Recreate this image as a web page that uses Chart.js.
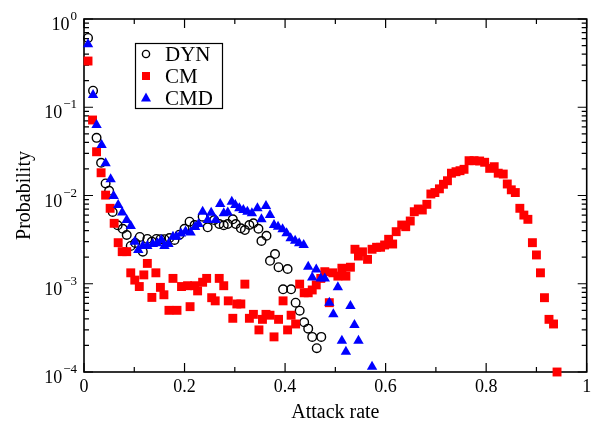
<!DOCTYPE html>
<html>
<head>
<meta charset="utf-8">
<script src="https://cdn.jsdelivr.net/npm/chart.js@4"></script>
<style>
  html, body { margin: 0; padding: 0; background: #fff; }
  #wrap { width: 593px; height: 425px; }
</style>
</head>
<body>
<div id="wrap"><canvas id="attackChart" width="593" height="425"></canvas></div>
<script>
// DYN (open circles)
const dynX = [
  0.008, 0.018, 0.025, 0.034, 0.043, 0.050, 0.057, 0.067, 0.077, 0.085,
  0.093, 0.102, 0.111, 0.117, 0.126, 0.135, 0.144, 0.152, 0.160, 0.170,
  0.180, 0.190, 0.200, 0.210, 0.220, 0.236, 0.246, 0.259, 0.269, 0.278,
  0.286, 0.296, 0.302, 0.312, 0.320, 0.329, 0.337, 0.347, 0.353, 0.363,
  0.370, 0.380, 0.387, 0.396, 0.405, 0.412, 0.421, 0.429, 0.438, 0.446,
  0.454, 0.463, 0.472
]
const dynY = [
  0.61, 0.154, 0.045, 0.0235, 0.0137, 0.0113, 0.0065, 0.0046, 0.0042, 0.00357,
  0.00268, 0.0029, 0.00339, 0.00231, 0.00322, 0.0030, 0.00322, 0.0032, 0.0032, 0.0033,
  0.00313, 0.0036, 0.0042, 0.00505, 0.00463, 0.00575, 0.00436, 0.00527, 0.00475, 0.0046,
  0.00475, 0.00537, 0.00475, 0.00425, 0.00406, 0.00463, 0.00484, 0.0042, 0.00305, 0.0035,
  0.00182, 0.00217, 0.00154, 0.000865, 0.00147, 0.000865, 0.00061, 0.000495, 0.000366, 0.00031,
  0.00025, 0.000186, 0.00025
]

// CM (red squares)
const cmX = [
  0.008, 0.017, 0.025, 0.034, 0.043, 0.052, 0.060, 0.068, 0.076, 0.085,
  0.093, 0.101, 0.110, 0.119, 0.126, 0.135, 0.143, 0.152, 0.159, 0.169,
  0.177, 0.185, 0.194, 0.206, 0.211, 0.220, 0.226, 0.236, 0.244, 0.254,
  0.261, 0.269, 0.278, 0.287, 0.296, 0.304, 0.312, 0.320, 0.329, 0.337,
  0.348, 0.355, 0.362, 0.370, 0.378, 0.387, 0.396, 0.405, 0.412, 0.421,
  0.429, 0.438, 0.446, 0.454, 0.462, 0.471, 0.479, 0.488, 0.495, 0.505,
  0.513, 0.521, 0.530, 0.539, 0.546, 0.554, 0.564, 0.573, 0.582, 0.590,
  0.598, 0.606, 0.614, 0.621, 0.632, 0.640, 0.649, 0.657, 0.665, 0.673,
  0.682, 0.690, 0.698, 0.707, 0.715, 0.723, 0.731, 0.740, 0.748, 0.756,
  0.766, 0.776, 0.787, 0.797, 0.807, 0.816, 0.824, 0.834, 0.842, 0.850,
  0.858, 0.867, 0.875, 0.883, 0.892, 0.900, 0.908, 0.916, 0.925, 0.934, 0.941
]
const cmY = [
  0.334, 0.0717, 0.0313, 0.0181, 0.0101, 0.00716, 0.00484, 0.00292, 0.00231, 0.00231,
  0.00133, 0.0011, 0.00093, 0.00126, 0.0017, 0.0007, 0.00133, 0.00091, 0.00075, 0.0005,
  0.00115, 0.0005, 0.00093, 0.00095, 0.00055, 0.00095, 0.00083, 0.00104, 0.00115, 0.000695,
  0.00064, 0.00115, 0.00095, 0.00064, 0.000406, 0.00059, 0.00059, 0.00099, 0.000406, 0.00045,
  0.0003, 0.000395, 0.00045, 0.00044, 0.00025, 0.000395, 0.00064, 0.0003, 0.00044, 0.00035,
  0.00099, 0.00079, 0.00079, 0.00085, 0.00097, 0.00115, 0.00137, 0.00061, 0.00133, 0.00122,
  0.0015, 0.00122, 0.00154, 0.00246, 0.00206, 0.0023, 0.00189, 0.00246, 0.00259, 0.00259,
  0.00275, 0.00319, 0.00282, 0.00389, 0.00463, 0.00443, 0.00514, 0.00655, 0.00703, 0.00685,
  0.00794, 0.0104, 0.0108, 0.0119, 0.0134, 0.0147, 0.0179, 0.0186, 0.0191, 0.0198,
  0.0248, 0.0248, 0.0246, 0.0238, 0.0203, 0.0212, 0.0179, 0.0175, 0.0135, 0.0116,
  0.0108, 0.00716, 0.006, 0.00537, 0.00292, 0.00212, 0.00133, 0.000695, 0.000395, 0.00035, 0.0001
]

// CMD (blue triangles)
const cmdX = [
  0.008, 0.018, 0.025, 0.035, 0.043, 0.053, 0.059, 0.068, 0.076, 0.085,
  0.093, 0.101, 0.108, 0.117, 0.126, 0.137, 0.146, 0.154, 0.160, 0.168,
  0.177, 0.184, 0.193, 0.202, 0.212, 0.221, 0.228, 0.236, 0.246, 0.253,
  0.262, 0.271, 0.278, 0.286, 0.294, 0.301, 0.309, 0.317, 0.325, 0.334,
  0.345, 0.353, 0.362, 0.370, 0.378, 0.386, 0.395, 0.403, 0.411, 0.420,
  0.428, 0.437, 0.446, 0.454, 0.462, 0.471, 0.479, 0.488, 0.496, 0.505,
  0.513, 0.521, 0.530, 0.538, 0.546, 0.573
]
const cmdY = [
  0.516, 0.138, 0.063, 0.0373, 0.0232, 0.0153, 0.0099, 0.0078, 0.0064, 0.00528,
  0.0045, 0.003, 0.00241, 0.00268, 0.00268, 0.00282, 0.00287, 0.00313, 0.00268, 0.00282,
  0.00341, 0.00341, 0.0037, 0.0039, 0.0038, 0.0044, 0.00475, 0.00655, 0.00527, 0.00638,
  0.00527, 0.008, 0.00628, 0.0064, 0.0085, 0.0078, 0.00716, 0.00685, 0.00655, 0.00628,
  0.00716, 0.00537, 0.0076, 0.006, 0.00463, 0.00443, 0.00414, 0.00373, 0.00327, 0.00308,
  0.00287, 0.00275, 0.00156, 0.00118, 0.00145, 0.00115, 0.00115, 0.00061, 0.00045, 0.00091,
  0.000226, 0.00017, 0.00056, 0.000341, 0.000226, 0.000115
]

const seriesNames = ["DYN", "CM", "CMD"]

// axis ticks
const xMajorTicks = [0, 0.2, 0.4, 0.6, 0.8, 1]
const xMinorTicks = [0.1, 0.3, 0.5, 0.7, 0.9]
const yPowers = [0, -1, -2, -3, -4]
const yExponentLabels = ["0", "\u22121", "\u22122", "\u22123", "\u22124"]

function toPoints(xs, ys) {
  return xs.map((v, i) => ({ x: v, y: ys[i] }))
}

const serif = '"Liberation Serif", "Times New Roman", serif'
Chart.defaults.font.family = serif
Chart.defaults.color = "#000"

const frameAndTicks = {
  id: "frameAndTicks",
  beforeDatasetsDraw(chart) {
    const { ctx, chartArea: a, scales } = chart
    const x = scales.x, y = scales.y
    ctx.save()
    ctx.strokeStyle = "#000"
    ctx.lineWidth = 1.6
    ctx.strokeRect(a.left, a.top, a.right - a.left, a.bottom - a.top)

    ctx.lineWidth = 1.2
    ctx.beginPath()
    const xTick = (v, len) => {
      const px = x.getPixelForValue(v)
      ctx.moveTo(px, a.bottom); ctx.lineTo(px, a.bottom - len)
      ctx.moveTo(px, a.top); ctx.lineTo(px, a.top + len)
    }
    const yTick = (v, len) => {
      const py = y.getPixelForValue(v)
      ctx.moveTo(a.left, py); ctx.lineTo(a.left + len, py)
      ctx.moveTo(a.right, py); ctx.lineTo(a.right - len, py)
    }
    xMajorTicks.forEach(v => xTick(v, 9))
    xMinorTicks.forEach(v => xTick(v, 5))
    yPowers.forEach(p => {
      yTick(Math.pow(10, p), 9)
      if (p > -4) {
        for (let k = 2; k <= 9; k++) yTick(k * Math.pow(10, p - 1), 5)
      }
    })
    ctx.stroke()
    ctx.restore()
  },
  afterDraw(chart) {
    const { ctx, scales } = chart
    const y = scales.y
    ctx.save()
    ctx.fillStyle = "#000"
    ctx.textAlign = "right"
    ctx.textBaseline = "alphabetic"
    yPowers.forEach((p, i) => {
      const py = y.getPixelForValue(Math.pow(10, p))
      ctx.font = "13px " + serif
      const ew = ctx.measureText(yExponentLabels[i]).width
      ctx.fillText(yExponentLabels[i], 77, py + 1)
      ctx.font = "18px " + serif
      ctx.fillText("10", 77 - ew - 1, py + 11)
    })

    // legend box
    ctx.strokeStyle = "#000"
    ctx.lineWidth = 1.2
    ctx.strokeRect(135.5, 43.5, 87, 65)
    const rows = [54, 76, 98]
    const mx = 146
    // circle
    ctx.beginPath()
    ctx.arc(mx, rows[0], 3.6, 0, Math.PI * 2)
    ctx.lineWidth = 1.4
    ctx.stroke()
    // square
    ctx.fillStyle = "#ff0000"
    ctx.fillRect(mx - 4, rows[1] - 4, 8, 8)
    // triangle
    ctx.fillStyle = "#0000ff"
    ctx.beginPath()
    ctx.moveTo(mx, rows[2] - 5.5)
    ctx.lineTo(mx + 5, rows[2] + 3.5)
    ctx.lineTo(mx - 5, rows[2] + 3.5)
    ctx.closePath()
    ctx.fill()

    ctx.fillStyle = "#000"
    ctx.textAlign = "left"
    ctx.textBaseline = "middle"
    ctx.font = "21px " + serif
    seriesNames.forEach((name, i) => ctx.fillText(name, 165, rows[i] + 1))
    ctx.restore()
  }
}

new Chart(document.getElementById("attackChart"), {
  type: "scatter",
  data: {
    datasets: [
      {
        label: seriesNames[0],
        data: toPoints(dynX, dynY),
        pointStyle: "circle",
        pointRadius: 4.3,
        borderColor: "#000",
        backgroundColor: "rgba(0,0,0,0)",
        borderWidth: 1.4,
        order: 3,
        clip: false
      },
      {
        label: seriesNames[1],
        data: toPoints(cmX, cmY),
        pointStyle: "rect",
        pointRadius: 6.3,
        backgroundColor: "#ff0000",
        borderColor: "#ff0000",
        borderWidth: 0,
        order: 2,
        clip: false
      },
      {
        label: seriesNames[2],
        data: toPoints(cmdX, cmdY),
        pointStyle: "triangle",
        pointRadius: 6,
        backgroundColor: "#0000ff",
        borderColor: "#0000ff",
        borderWidth: 0,
        order: 1,
        clip: false
      }
    ]
  },
  options: {
    responsive: false,
    animation: false,
    devicePixelRatio: 1,
    layout: { padding: { top: 19, right: 3, bottom: 0, left: 0 } },
    plugins: {
      legend: { display: false },
      tooltip: { enabled: false }
    },
    scales: {
      x: {
        type: "linear",
        min: 0,
        max: 1,
        grid: { display: false, drawTicks: false },
        border: { display: false },
        ticks: {
          stepSize: 0.2,
          padding: 4,
          font: { size: 18 },
          color: "#000",
          callback: v => (v === 0 ? "0" : v === 1 ? "1" : v.toFixed(1))
        },
        title: {
          display: true,
          text: "Attack rate",
          font: { size: 20 },
          color: "#000",
          padding: { top: 0, bottom: 0 }
        },
        afterFit: scale => {
          scale.height = 53
          scale.paddingLeft = 0
          scale.paddingRight = 0
        }
      },
      y: {
        type: "logarithmic",
        min: 0.0001,
        max: 1,
        grid: { display: false, drawTicks: false },
        border: { display: false },
        ticks: { display: false },
        title: {
          display: true,
          text: "Probability",
          font: { size: 20 },
          color: "#000",
          padding: { top: 13, bottom: 0 }
        },
        afterFit: scale => { scale.width = 84 }
      }
    }
  },
  plugins: [frameAndTicks]
})
</script>
</body>
</html>
